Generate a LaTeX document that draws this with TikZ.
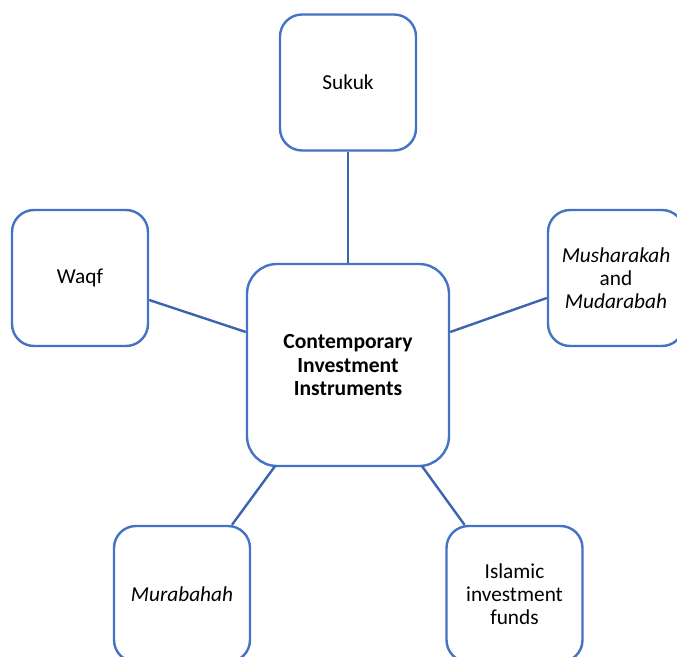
\documentclass[tikz,border=0pt]{standalone}
\usepackage{fontspec}
\setmainfont{Carlito}
\usetikzlibrary{calc}
\definecolor{boxblue}{HTML}{4472C4}
\definecolor{lineblue}{HTML}{3C64AE}
\begin{document}
\begin{tikzpicture}[x=1pt,y=1pt,
  item/.style={draw=boxblue, line width=2.4pt, rounded corners=22pt, fill=white,
    minimum width=136pt, minimum height=136pt, inner sep=0pt, align=center,
    font=\fontsize{21.3}{23.3}\selectfont, text=black},
  hub/.style={item, minimum width=202pt, minimum height=202pt, rounded corners=30pt,
    font=\fontsize{21.6}{23.6}\selectfont\bfseries},
  link/.style={draw=lineblue, line width=2.4pt}]
\useasboundingbox (0,0) rectangle (677,656);
\clip (0,0) rectangle (677,656);
\node[item] (sukuk) at (348,573.5) {Sukuk};
\node[item] (waqf) at (80,378) {Waqf};
\node[item] (mush) at (616,378) {\textit{Musharakah}\\and\\\textit{Mudarabah}};
\node[hub] (ctr) at (348,291) {Contemporary\\Investment\\Instruments};
\node[item] (murab) at (182,62) {\textit{Murabahah}};
\node[item] (isl) at (514.5,62) {Islamic\\investment\\funds};
\draw[link] (sukuk.south) -- (ctr.north);
\draw[link] ([yshift=-22pt]waqf.east) -- ([yshift=33pt]ctr.west);
\draw[link] ([yshift=-20pt]mush.west) -- ([yshift=33pt]ctr.east);
\draw[link] ([xshift=50pt]murab.north) -- ([xshift=-73pt,yshift=1pt]ctr.south);
\draw[link] ([xshift=-50pt]isl.north) -- ([xshift=74pt,yshift=1pt]ctr.south);
\end{tikzpicture}
\end{document}
